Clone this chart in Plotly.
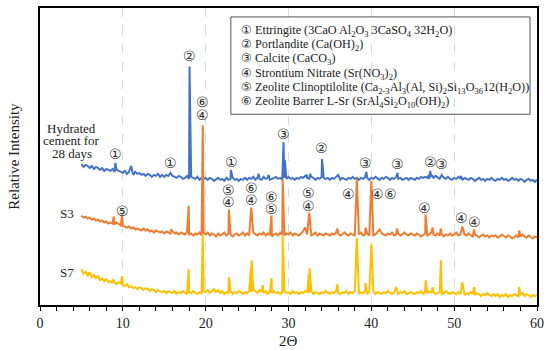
import numpy as np
import plotly.graph_objects as go

# 2-theta scan grid (degrees) for the baseline readings
grid_start, grid_end, grid_step = 5.0, 60.0, 0.25

# ---- Hydrated cement for 28 days (blue) ----
blue_base = [
    142,139,141,140,138,140,137,139,138,136,138,135,137,136,135,137,134,136,135,134,
    133,135,132,134,133,131,134,132,133,131,132,130,132,131,129,131,130,132,129,131,
    129,131,130,128,130,129,128,130,129,127,128,130,127,129,128,127,129,126,128,127,
    128,126,128,127,125,127,128,126,127,125,128,126,127,128,126,127,125,127,126,128,
    126,128,127,129,126,128,127,126,129,127,128,126,127,128,129,127,128,126,128,127,
    129,127,128,126,128,127,129,128,130,128,127,129,128,126,128,127,129,128,127,128,
    126,128,127,129,128,126,128,127,126,128,127,129,127,128,126,128,127,129,128,126,
    128,127,129,127,126,128,127,129,128,126,128,127,129,127,128,126,127,128,126,128,
    127,126,128,127,129,128,129,128,127,129,128,130,128,127,126,128,127,129,127,126,
    128,127,129,127,126,128,127,126,128,127,125,127,128,126,127,125,127,126,128,126,
    125,127,126,128,126,127,125,126,128,126,127,125,127,126,124,126,127,125,126,124,
    126]
blue_peak_x = [9.1, 11.0, 15.75, 18.05, 23.05, 26.4, 27.6, 29.3, 29.4, 29.55, 32.2, 32.6,
               34.05, 34.15, 36.0, 39.4, 43.15, 46.95, 47.1, 47.3, 48.5, 50.8]
blue_peak_y = [143, 140, 133, 240, 136, 132, 131, 150, 164, 146, 131, 132,
               147, 138, 131, 134, 133, 131, 135, 131, 131, 130]

# ---- S3 (orange) ----
s3_base = [
    90,88,89,87,88,86,87,85,86,84,85,83,84,82,83,82,81,83,81,80,
    80,79,78,79,77,78,76,77,76,75,77,75,76,74,75,73,75,74,73,74,
    72,74,73,72,74,72,73,71,73,72,71,73,71,72,70,72,71,73,70,72,
    71,73,70,72,71,69,72,70,71,73,70,72,71,69,71,72,70,71,73,70,
    72,70,71,73,71,70,72,71,73,70,72,71,69,71,72,70,73,71,70,72,
    71,73,70,72,71,70,72,74,73,71,72,70,71,73,70,72,71,70,72,71,
    70,72,71,73,72,70,71,73,71,70,72,71,70,72,71,73,70,71,72,70,
    72,70,71,73,70,72,71,70,72,71,73,70,71,72,70,71,73,71,70,72,
    71,70,72,71,69,71,72,70,71,73,71,70,72,70,71,69,71,70,72,70,
    71,73,70,71,69,71,70,72,70,69,71,70,68,70,71,69,70,68,70,69,
    70,68,69,71,69,68,70,69,67,69,70,68,69,71,69,68,70,68,67,69,
    68]
s3_peak_x = [8.9, 9.9, 15.8, 17.95, 19.65, 22.8, 25.5, 27.95, 29.3, 32.0, 32.4, 32.5,
             35.9, 38.25, 39.3, 40.0, 41.0, 43.1, 46.55, 47.4, 48.4, 51.0, 52.4, 57.85]
s3_peak_y = [89, 91, 76, 100, 181, 96, 98, 90, 126, 78, 84, 93,
             77, 127, 78, 125, 76, 77, 91, 78, 77, 79, 76, 75]

# ---- S7 (yellow) ----
s7_base = [
    36,31,34,29,33,28,30,27,29,25,27,24,26,23,24,22,23,21,23,21,
    20,19,21,18,19,17,18,16,18,17,15,17,16,14,16,15,13,15,14,13,
    14,12,14,13,12,14,11,13,12,14,12,11,13,12,14,12,11,13,12,14,
    13,15,12,14,16,13,15,12,14,11,13,12,14,11,13,12,14,13,11,13,
    12,14,13,15,14,12,15,13,12,14,11,13,12,14,12,13,11,13,14,12,
    13,11,14,12,13,11,13,12,14,13,12,14,11,13,12,11,13,12,14,12,
    11,13,12,14,12,11,13,12,14,11,13,12,14,12,11,13,12,14,11,13,
    12,14,11,13,12,11,13,12,14,12,11,13,12,11,13,12,14,11,12,13,
    12,11,13,12,14,11,13,12,14,12,13,11,12,13,11,12,14,12,11,13,
    12,11,13,11,12,10,12,11,13,11,10,12,11,9,11,10,12,10,9,11,
    9,11,8,10,9,11,8,10,9,11,10,8,10,12,9,11,10,8,10,9,
    10]
s7_peak_x = [8.85, 9.9, 17.95, 19.65, 22.8, 25.45, 25.55, 26.9, 27.95, 29.3, 32.45, 32.55,
             35.9, 38.25, 39.3, 40.0, 43.0, 46.55, 47.4, 48.4, 51.0, 52.4, 57.85]
s7_peak_y = [26, 29, 36, 70, 28, 38, 45, 20, 27, 70, 31, 37,
             21, 68, 22, 61, 18, 25, 18, 45, 23, 18, 18]

# ---- peak identification labels ----
label_text = ["①", "①", "②", "⑥", "④", "①", "③", "②", "③", "③", "②", "③",
              "⑤", "⑤", "④", "⑥", "④", "⑥", "⑤", "⑤", "④", "④", "④", "⑥", "④", "④", "④"]
label_x = [9.1, 15.8, 18.1, 19.6, 19.6, 23.1, 29.4, 34.0, 39.3, 43.1, 47.1, 48.5,
           10.0, 22.7, 22.7, 25.5, 25.5, 27.9, 27.9, 32.4, 32.4, 37.2, 40.7, 42.3, 46.4, 50.9, 52.4]
label_y = [152, 143, 251, 204, 191, 144, 172, 158, 143, 142, 144, 142,
           95, 116, 104, 118, 106, 109, 97, 113, 100, 112, 112, 112, 98, 88, 84]

legend_lines = [
    "① Ettringite (3CaO Al<sub>2</sub>O<sub>3</sub> 3CaSO<sub>4</sub> 32H<sub>2</sub>O)",
    "② Portlandite (Ca(OH)<sub>2</sub>)",
    "③ Calcite (CaCO<sub>3</sub>)",
    "④ Strontium Nitrate (Sr(NO<sub>3</sub>)<sub>2</sub>)",
    "⑤ Zeolite Clinoptilolite (Ca<sub>2-3</sub>Al<sub>3</sub>(Al, Si)<sub>2</sub>Si<sub>13</sub>O<sub>36</sub>12(H<sub>2</sub>O))",
    "⑥ Zeolite Barrer L-Sr (SrAl<sub>4</sub>Si<sub>2</sub>O<sub>10</sub>(OH)<sub>2</sub>)",
]

grid_x = np.round(np.arange(grid_start, grid_end + grid_step / 2, grid_step), 3)


def merge(base, px, py):
    d = {float(x): float(y) for x, y in zip(grid_x, base)}
    for x, y in zip(px, py):
        d[round(float(x), 3)] = float(y)
    xs = sorted(d)
    return xs, [d[x] for x in xs]


FONT = "Liberation Serif"
FONT_SYM = "DejaVu Sans"
TXT = "#222222"
fig = go.Figure()
for base, px, py, color, name in [
    (blue_base, blue_peak_x, blue_peak_y, "#4472C4", "Hydrated cement for 28 days"),
    (s7_base, s7_peak_x, s7_peak_y, "#FFC000", "S7"),
    (s3_base, s3_peak_x, s3_peak_y, "#ED7D31", "S3"),
]:
    xs, ys = merge(base, px, py)
    fig.add_trace(go.Scatter(x=xs, y=ys, mode="lines", name=name,
                             line=dict(color=color, width=2), showlegend=False,
                             hoverinfo="skip"))

ann = []
for t, x, y in zip(label_text, label_x, label_y):
    ann.append(dict(x=x, y=y, xref="x", yref="y", text=t, showarrow=False,
                    xanchor="center", yanchor="middle",
                    font=dict(family=FONT_SYM, size=14, color="#333333")))

L, R, T, B = 40, 540, 6, 305
def px2x(p):
    return (p - L) / (R - L)
def py2y(p):
    return (B - p) / (B - T)

for i, line in enumerate(legend_lines):
    ann.append(dict(x=px2x(240), y=py2y(29 + 14.4 * i), xref="paper", yref="paper",
                    xanchor="left", yanchor="middle", text=line, showarrow=False,
                    font=dict(family=FONT, size=12.2, color=TXT)))

def label(text, xp, yp, size=13, angle=0):
    ann.append(dict(x=px2x(xp), y=py2y(yp), xref="paper", yref="paper", text=text,
                    xanchor="center", yanchor="middle", textangle=angle,
                    showarrow=False, font=dict(family=FONT, size=size, color=TXT)))

for t, yy in [("Hydrated", 127), ("cement for", 139.5), ("28 days", 152)]:
    label(t, 72, yy)
label("S3", 67, 213)
label("S7", 67, 272)
label("Relative Intensity", 13, 155.5, size=15, angle=-90)
label("2Θ", 290, 341, size=15)

fig.update_layout(
    width=550, height=350,
    margin=dict(l=L, r=550 - R, t=T, b=350 - B),
    paper_bgcolor="white", plot_bgcolor="white",
    annotations=ann,
    shapes=[dict(type="rect", xref="paper", yref="paper",
                 x0=px2x(232), x1=px2x(533), y0=py2y(113), y1=py2y(15),
                 line=dict(color="#555555", width=1), fillcolor="rgba(0,0,0,0)")],
    xaxis=dict(range=[0, 60], dtick=10, tick0=0, showline=True, linecolor="black",
               linewidth=2, mirror=True, ticks="outside", ticklen=4, tickcolor="black",
               minor=dict(dtick=2, ticks="outside", ticklen=4, tickcolor="black", showgrid=False),
               showgrid=True, gridcolor="#d9d9d9", griddash="dash", gridwidth=1,
               zeroline=False,
               tickfont=dict(family=FONT, size=14, color=TXT)),
    yaxis=dict(range=[0, B - T], showline=True, linecolor="black", linewidth=2, mirror=True,
               showticklabels=False, ticks="", showgrid=False, zeroline=False),
)

fig.write_html("out.html", config={"displayModeBar": False},
               post_script="document.body.style.margin='0px';")
